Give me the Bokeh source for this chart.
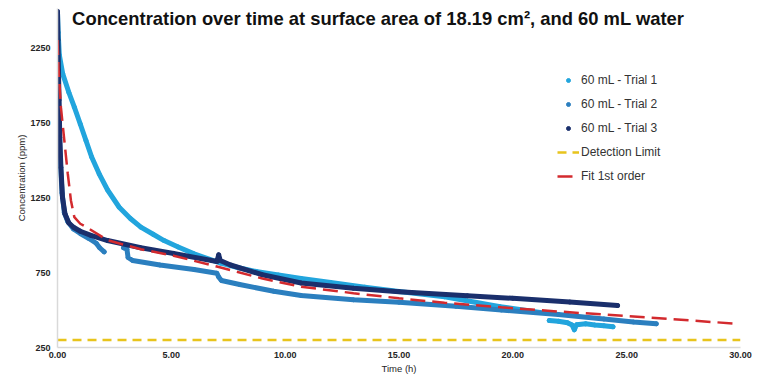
import math
from bokeh.plotting import figure
from bokeh.models import (Range1d, FixedTicker, NumeralTickFormatter, Legend,
                          LegendItem, Label)
from bokeh.embed import file_html
from bokeh.resources import INLINE

GAP = math.nan  # breaks a trace where the logger restarted

# Trial 1 (60 mL): time in hours, concentration in ppm
trial1_t = [0.00, 0.03, 0.08, 0.23, 0.50, 0.74, 1.00, 1.25, 1.50, 1.83, 2.20, 2.71,
            3.20, 3.66, 4.20, 4.68, 5.30, 6.00, 7.17, 8.00, 8.78, 9.70, 10.70, 12.00,
            13.50, 15.00, 17.00, 19.45, 21.20, GAP,
            21.60, 22.00, 22.40, 22.60, 22.70, 22.80, 23.20, 23.60, 24.00, 24.40]
trial1_c = [2480, 2350, 2200, 2074, 1950, 1852, 1740, 1630, 1520, 1408, 1300, 1185,
            1110, 1052, 1005, 963, 920, 874, 812, 780, 755, 733, 710, 683,
            652, 624, 588, 522, 484, GAP,
            430, 425, 415, 400, 368, 402, 408, 400, 395, 388]

# Trial 2 (60 mL)
trial2_t = [0.00, 0.03, 0.07, 0.12, 0.20, 0.30, 0.45, 0.70, 1.00, 1.40, 1.70, 1.85,
            2.05, GAP,
            2.90, 3.05, 3.10, 3.30, 4.50, 6.00, 7.00, 7.08, 7.20, 8.00, 9.50,
            10.70, 13.00, 15.00, 17.50, 19.50, 22.00, 24.00, 25.30, 26.30]
trial2_c = [2300, 2000, 1750, 1500, 1280, 1150, 1090, 1040, 1010, 975, 945, 915,
            888, GAP,
            915, 905, 850, 830, 800, 770, 745, 720, 697, 670, 625,
            597, 568, 552, 525, 500, 470, 440, 420, 408]

# Trial 3 (60 mL)
trial3_t = [0.00, 0.02, 0.04, 0.07, 0.10, 0.15, 0.22, 0.33, 0.50, 0.72, 1.00, 1.47,
            2.20, 3.66, 5.10, 7.00, 7.08, 7.15, 7.60, 9.00, 10.70, 13.00, 15.00,
            18.00, 20.00, 22.50, 24.60]
trial3_c = [2490, 2300, 2100, 1900, 1650, 1450, 1250, 1140, 1080, 1050, 1025, 997,
            963, 915, 877, 823, 868, 830, 800, 735, 680, 645, 622,
            595, 578, 553, 530]

# First-order fit
fit_t = [0.00, 0.05, 0.15, 0.30, 0.45, 0.59, 0.74, 1.00, 1.32, 2.20, 3.66,
         5.10, 7.00, 9.00, 10.70, 13.00, 15.00, 17.00, 19.50, 22.00, 25.90, 29.70]
fit_c = [2300, 2100, 1852, 1630, 1410, 1230, 1119, 1075, 1048, 965, 905,
         862, 790, 710, 655, 612, 578, 548, 518, 490, 450, 410]

# Detection limit
detect_t = [0.0, 30.0]
detect_c = [300, 300]

x_ticks = [0, 5, 10, 15, 20, 25, 30]
y_ticks = [250, 750, 1250, 1750, 2250]

C_T1 = "#22a5dd"
C_T2 = "#2b7fbf"
C_T3 = "#1a2f6c"
C_FIT = "#d32a2e"
C_DET = "#e8c41c"

p = figure(width=757, height=382, output_backend="svg", toolbar_location=None,
           x_range=Range1d(0, 30), y_range=Range1d(250, 2510),
           min_border_left=57, min_border_right=17, min_border_top=8,
           min_border_bottom=35)
p.outline_line_color = None
p.xgrid.visible = False
p.ygrid.visible = False

# data traces (dense logger points drawn as thick traces)
p.line(trial1_t, trial1_c, line_color=C_T1, line_width=5, line_cap="round", line_join="round")
s1 = p.scatter(trial1_t, trial1_c, size=4, color=C_T1)
p.line(trial2_t, trial2_c, line_color=C_T2, line_width=5, line_cap="round", line_join="round")
s2 = p.scatter(trial2_t, trial2_c, size=4, color=C_T2)
p.line(trial3_t, trial3_c, line_color=C_T3, line_width=5, line_cap="round", line_join="round")
s3 = p.scatter(trial3_t, trial3_c, size=4, color=C_T3)

det = p.line(detect_t, detect_c, line_color=C_DET, line_width=2.5, line_dash="9 6")
fit = p.line(fit_t, fit_c, line_color=C_FIT, line_width=2.5, line_dash="15 7")

# axes
for ax in (p.xaxis, p.yaxis):
    ax.axis_line_color = "#d9d9d9"
    ax.axis_line_width = 1.5
    ax.major_tick_line_color = None
    ax.minor_tick_line_color = None
    ax.major_tick_in = 0
    ax.major_tick_out = 0
    ax.major_label_text_font = "Liberation Sans"
    ax.major_label_text_font_style = "bold"
    ax.major_label_text_font_size = "9px"
    ax.major_label_text_color = "#262626"
    ax.axis_label_text_font = "Liberation Sans"
    ax.axis_label_text_font_style = "normal"
    ax.axis_label_text_font_size = "9.5px"
    ax.axis_label_text_color = "#262626"

p.xaxis.ticker = FixedTicker(ticks=x_ticks)
p.xaxis.formatter = NumeralTickFormatter(format="0.00")
p.xaxis.axis_label = "Time (h)"
p.xaxis.major_label_standoff = 4
p.xaxis.axis_label_standoff = 2

p.yaxis.ticker = FixedTicker(ticks=y_ticks)
p.yaxis.axis_label = "Concentration (ppm)"
p.yaxis.major_label_standoff = 7
p.yaxis.axis_label_standoff = 0

# title drawn over the top of the plot area
p.add_layout(Label(x=14.2, y=2443, text="Concentration over time at surface area of 18.19 cm\u00b2,  and 60 mL water",
                   text_font="Liberation Sans", text_font_style="bold",
                   text_font_size="18.4px", text_color="#111111",
                   text_align="center", text_baseline="middle"))

legend = Legend(items=[
    LegendItem(label="60 mL - Trial 1", renderers=[s1]),
    LegendItem(label="60 mL - Trial 2", renderers=[s2]),
    LegendItem(label="60 mL - Trial 3", renderers=[s3]),
    LegendItem(label="Detection Limit", renderers=[det]),
    LegendItem(label="Fit 1st order", renderers=[fit]),
], location=(500, 164))
legend.border_line_color = None
legend.background_fill_alpha = 0
legend.padding = 0
legend.margin = 0
legend.spacing = 10
legend.glyph_width = 22
legend.glyph_height = 10
legend.label_height = 14
legend.label_standoff = 2
legend.label_text_font = "Liberation Sans"
legend.label_text_font_size = "12px"
legend.label_text_color = "#333333"
p.add_layout(legend)

open("out.html", "w").write(file_html(p, INLINE))
